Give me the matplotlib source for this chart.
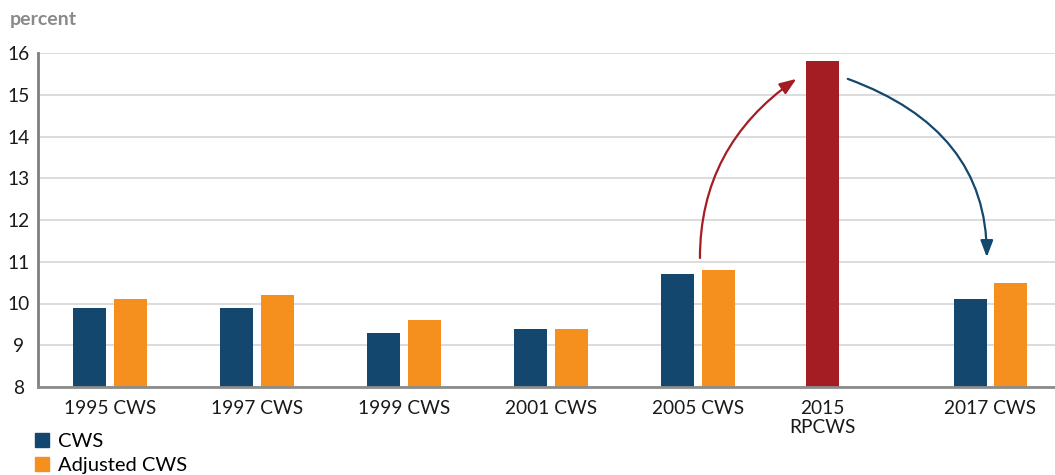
import matplotlib
matplotlib.use("Agg")
import matplotlib.pyplot as plt
from matplotlib.patches import Patch

plt.rcParams['font.family'] = ['Lato', 'DejaVu Sans']

groups = ["1995 CWS", "1997 CWS", "1999 CWS", "2001 CWS", "2005 CWS", "2015\nRPCWS", "2017 CWS"]
cws = [9.9, 9.9, 9.3, 9.4, 10.7, None, 10.1]
adjusted = [10.1, 10.2, 9.6, 9.4, 10.8, None, 10.5]
rpcws = [None, None, None, None, None, 15.8, None]
yticks = [8, 9, 10, 11, 12, 13, 14, 15, 16]

# layout (group positions along x; not data)
xpos = [0, 1, 2, 3, 4, 4.85, 5.99]
bw = 0.224
off = 0.138

BLUE = "#14476D"
ORANGE = "#F5901F"
RED = "#A41D22"

fig = plt.figure(figsize=(10.55, 4.75), dpi=100)
ax = fig.add_axes([38 / 1055, 1 - 387 / 475, 1 - 38 / 1055, (387 - 53) / 475])

bx = [x - off for x, v in zip(xpos, cws) if v is not None]
bv = [v for v in cws if v is not None]
ox = [x + off for x, v in zip(xpos, adjusted) if v is not None]
ov = [v for v in adjusted if v is not None]
rx = [x for x, v in zip(xpos, rpcws) if v is not None]
rv = [v for v in rpcws if v is not None]

ax.bar(bx, [v - 8 for v in bv], bottom=8, width=bw, color=BLUE, label="CWS", zorder=3)
ax.bar(ox, [v - 8 for v in ov], bottom=8, width=bw, color=ORANGE, label="Adjusted CWS", zorder=3)
ax.bar(rx, [v - 8 for v in rv], bottom=8, width=bw, color=RED, zorder=3)

ax.set_ylim(8, 16)
ax.set_xlim(-0.49, 6.43)
ax.set_yticks(yticks)
ax.set_yticklabels([str(t) for t in yticks])
ax.set_xticks(xpos)
ax.set_xticklabels(groups, linespacing=1.2)
ax.grid(axis='y', color='#d6d6d6', linewidth=1.2, zorder=0)
ax.set_axisbelow(True)
for s in ['top', 'right']:
    ax.spines[s].set_visible(False)
ax.spines['left'].set_color('#7f7f7f')
ax.spines['left'].set_linewidth(2)
ax.spines['bottom'].set_color('#8c8c8c')
ax.spines['bottom'].set_linewidth(2)
ax.spines['bottom'].set_zorder(4)
ax.tick_params(axis='both', length=0, labelsize=13.8, colors='#1a1a1a')
ax.tick_params(axis='y', pad=14)
ax.tick_params(axis='x', pad=9)
for lab in ax.get_yticklabels():
    lab.set_horizontalalignment('center')

# arrows
ax.annotate("", xy=(4.67, 15.38), xytext=(4.014, 11.09),
            arrowprops=dict(arrowstyle="-|>,head_length=1.0,head_width=0.38",
                            color=RED, lw=1.6,
                            connectionstyle="angle3,angleA=90,angleB=35",
                            shrinkA=0, shrinkB=0))
ax.annotate("", xy=(5.966, 11.11), xytext=(5.02, 15.38),
            arrowprops=dict(arrowstyle="-|>,head_length=1.0,head_width=0.38",
                            color=BLUE, lw=1.6,
                            connectionstyle="angle3,angleA=-20,angleB=90",
                            shrinkA=0, shrinkB=0))

fig.text(10 / 1055, 1 - 19 / 475, "percent", fontsize=14, fontweight='bold',
         color='#8a8a8a', va='center', ha='left')

handles = [Patch(color=BLUE, label="CWS"), Patch(color=ORANGE, label="Adjusted CWS")]
fig.legend(handles=handles, loc='upper left', bbox_to_anchor=(35 / 1055, 1 - 433 / 475),
           frameon=False, fontsize=14.5, handlelength=0.7, handleheight=0.7,
           handletextpad=0.45, labelspacing=0.32, borderpad=0, borderaxespad=0)

fig.savefig("out.png", dpi=100)
